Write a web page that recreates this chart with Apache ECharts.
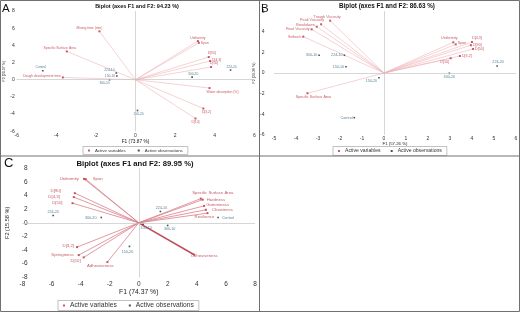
<!DOCTYPE html>
<html><head><meta charset="utf-8">
<script src="https://cdn.jsdelivr.net/npm/echarts@6/dist/echarts.min.js"></script>
<style>html,body{margin:0;padding:0;background:#fff}#c{width:520px;height:312px}</style>
</head><body><div id="c"></div>
<script>
// ---------- Panel A data ----------
const aTitle = 'Biplot (axes F1 and F2: 94.23 %)';
const aXName = 'F1 (73.87 %)';
const aYName = 'F2 (20.37 %)';
const aXTicks = [-6, -4, -2, 0, 2, 4, 6];
const aYTicks = [-6, -4, -2, 0, 2, 4, 6, 8];
const aVarNames = ['Mixing time (min)', 'Specific Surface Area', 'Dough development time', 'Uniformity', 'Span', 'D[90]', 'D[4,3]', 'D[50]', 'Water absorption (%)', 'D[3,2]', 'D[10]'];
const aVarF1 = [-1.82, -3.47, -3.67, 3.15, 3.20, 3.70, 3.77, 3.82, 3.74, 3.43, 3.03];
const aVarF2 = [5.64, 3.30, 0.27, 4.50, 4.30, 2.65, 2.18, 1.48, -0.97, -3.35, -4.51];
const aObsNames = ['Control', '224-10', '150-10', '300-10', '300-20', '224-20', '150-20'];
const aObsF1 = [-4.68, -0.97, -0.94, -1.31, 2.86, 4.80, 0.10];
const aObsF2 = [1.05, 0.78, 0.43, 0.00, 0.31, 1.13, -3.58];

// ---------- Panel B data ----------
const bTitle = 'Biplot (axes F1 and F2: 86.63 %)';
const bXName = 'F1 (57.26 %)';
const bYName = 'F2 (29.36 %)';
const bXTicks = [-5, -4, -3, -2, -1, 0, 1, 2, 3, 4, 5, 6];
const bYTicks = [-6, -4, -2, 0, 2, 4, 6];
const bVarNames = ['Trough Viscosity', 'Peak Viscosity', 'Breakdown', 'Final Viscosity', 'Setback', 'Specific Surface Area', 'Uniformity', 'Span', 'D[4,3]', 'D[90]', 'D[50]', 'D[3,2]', 'D[10]'];
const bVarF1 = [-2.45, -2.86, -3.06, -3.29, -3.67, -3.48, 3.15, 3.26, 4.00, 3.95, 4.05, 3.45, 3.03];
const bVarF2 = [5.08, 4.73, 4.50, 4.24, 3.53, -1.97, 2.98, 2.78, 3.00, 2.70, 2.33, 1.65, 1.43];
const bObsNames = ['300-10', '224-10', '150-10', '150-20', '300-20', '224-20', 'Control'];
const bObsF1 = [-2.95, -1.80, -1.73, -0.23, 2.97, 5.14, -1.35];
const bObsF2 = [1.72, 1.72, 0.61, -0.46, -0.03, 0.68, -4.34];

// ---------- Panel C data ----------
const cTitle = 'Biplot (axes F1 and F2: 89.95 %)';
const cXName = 'F1 (74.37 %)';
const cYName = 'F2 (15.58 %)';
const cXTicks = [-8, -6, -4, -2, 0, 2, 4, 6, 8];
const cYTicks = [-8, -6, -4, -2, 0, 2, 4, 6, 8];
const cVarNames = ['Uniformity', 'Span', 'D[90]', 'D[4,3]', 'D[50]', 'D[3,2]', 'Springiness', 'D[10]', 'Adhesiveness', 'Specific Surface Area', 'Hardness', 'Gumminess', 'Chewiness', 'Resilience', 'Cohesiveness'];
const cVarF1 = [-3.77, -3.65, -4.40, -4.47, -4.56, -4.25, -4.13, -3.79, -2.16, 4.27, 4.40, 4.50, 4.62, 4.73, 3.82];
const cVarF2 = [6.45, 6.40, 4.35, 3.77, 2.88, -3.57, -4.74, -5.08, -5.77, 3.55, 3.40, 2.49, 1.91, 1.42, -4.69];
const cObsNames = ['224-20', '300-20', '224-10', 'Control', '300-10', '150-10', '150-20'];
const cObsF1 = [-5.89, -2.58, 1.49, 5.46, 1.99, 0.30, -0.64];
const cObsF2 = [1.07, 0.78, 1.66, 0.78, -0.39, -0.20, -3.47];

const legendNames = ['Active variables', 'Active observations'];

// ---------- label placement (layout only) ----------
const aVarLab = [['top',-10,0],['top',-7,0],['left',0,-1],['top',0,0],['right',0,0],['top',3,0],['right',0,-1],['top',3,0],['bottom',13,0],['bottom',3,0],['bottom',0,0]];
const aObsLab = [['top',-2,0],['left',0,-3],['left',0,0],['bottom',-5,0],['top',1,0],['top',1,0],['bottom',1,0]];
const bVarLab = [['top',-3,0],['top',-9,0],['left',0,-2],['left',0,0],['left',0,0],['bottom',6,0],['top',-4,0],['right',0,-1],['top',5,0],['right',0,0],['right',0,0],['right',0,0],['bottom',-6,0]];
const bObsLab = [['left',0,0],['left',0,0],['left',0,0],['left',0,3],['bottom',0,0],['top',1,0],['left',0,0]];
const cVarLab = [['left',-3,0],['right',5,0],['left',-12,-2],['left',-12,0],['left',-8,0],['left',-1,-1],['left',-3,0],['left',-1,3],['bottom',-7,0],['top',12,-2],['right',2,0],['right',0,-1],['right',4,0],['bottom',-3,0],['bottom',10,-3]];
const cObsLab = [['top',0,0],['left',-3,0],['top',1,0],['right',2,0],['bottom',2,0],['bottom',3,0],['bottom',-2,2]];

const FONT = '"Liberation Sans", Arial, sans-serif';
const VAR_TXT = '#b8323f', OBS_TXT = '#2f6480', VAR_PT = '#c0303c', OBS_PT = '#222';

const panels = [
  {grid:{left:16.7, top:11, width:237.6, height:120.3}, xT:aXTicks, yT:aYTicks, xName:aXName, yName:aYName,
   vn:aVarNames, vx:aVarF1, vy:aVarF2, vl:aVarLab, on:aObsNames, ox:aObsF1, oy:aObsF2, ol:aObsLab,
   tick:5, xNameFs:4.8, yNameFs:3.6, xLabM:2, yLabM:2, xGap:7, yGap:8, varFs:3.4, obsFs:3.3,
   lineColor:'#eeb3b9', lineW:0.6},
  {grid:{left:274, top:11.2, width:242, height:123.6}, xT:bXTicks, yT:bYTicks, xName:bXName, yName:bYName,
   vn:bVarNames, vx:bVarF1, vy:bVarF2, vl:bVarLab, on:bObsNames, ox:bObsF1, oy:bObsF2, ol:bObsLab,
   tick:5, xNameFs:4.3, yNameFs:3.6, xLabM:1, yLabM:9.5, xGap:7, yGap:6, varFs:3.7, obsFs:3.7,
   lineColor:'#eeb3b9', lineW:0.6},
  {grid:{left:22.5, top:168.3, width:232.5, height:109}, xT:cXTicks, yT:cYTicks, xName:cXName, yName:cYName,
   vn:cVarNames, vx:cVarF1, vy:cVarF2, vl:cVarLab, on:cObsNames, ox:cObsF1, oy:cObsF2, ol:cObsLab,
   tick:6.5, xNameFs:6.8, yNameFs:5.6, xLabM:3, yLabM:-5, xGap:10, yGap:12, varFs:4.3, obsFs:3.7,
   lineColor:'#d9808c', lineW:0.8}
];

const grids = [], xAxes = [], yAxes = [], series = [];
panels.forEach((p, i) => {
  grids.push(Object.assign({containLabel:false, outerBoundsMode:'none'}, p.grid));
  xAxes.push({gridIndex:i, type:'value', min:p.xT[0], max:p.xT[p.xT.length-1], interval:p.xT[1]-p.xT[0],
    axisLine:{show:false}, axisTick:{show:false}, splitLine:{show:false},
    axisLabel:{fontSize:p.tick, color:'#333', margin:p.xLabM, fontFamily:FONT},
    name:p.xName, nameLocation:'middle', nameGap:p.xGap, nameTextStyle:{fontSize:p.xNameFs, color:'#222', fontFamily:FONT}});
  yAxes.push({gridIndex:i, type:'value', min:p.yT[0], max:p.yT[p.yT.length-1], interval:p.yT[1]-p.yT[0],
    axisLine:{show:false}, axisTick:{show:false}, splitLine:{show:false},
    axisLabel:{fontSize:p.tick, color:'#333', margin:p.yLabM, fontFamily:FONT},
    name:p.yName, nameLocation:'middle', nameGap:p.yGap, nameTextStyle:{fontSize:p.yNameFs, color:'#222', fontFamily:FONT}});
  // zero axes
  series.push({type:'scatter', xAxisIndex:i, yAxisIndex:i, data:[], silent:true, z:1,
    markLine:{silent:true, symbol:'none', label:{show:false}, animation:false,
      lineStyle:{color:'#c4c4c4', type:'solid', width:0.7},
      data:[{xAxis:0},{yAxis:0}]}});
  // variable vectors
  series.push({type:'lines', coordinateSystem:'cartesian2d', xAxisIndex:i, yAxisIndex:i, silent:true, z:2,
    animation:false,
    lineStyle:{color:p.lineColor, width:p.lineW, opacity:1},
    data:p.vn.map((n,k) => {
      const d = {coords:[[0,0],[p.vx[k], p.vy[k]]]};
      if (i === 2 && n === 'Cohesiveness') d.lineStyle = {color:'#c24a5a', width:1.5};
      return d;
    })});
  series.push({type:'scatter', name:legendNames[0], xAxisIndex:i, yAxisIndex:i, z:4, symbol:'rect', symbolSize:2,
    itemStyle:{color:VAR_PT}, animation:false,
    label:{show:true, formatter:'{b}', color:VAR_TXT, fontSize:p.varFs, fontFamily:FONT, distance:1},
    data:p.vn.map((n,k) => ({name:n, value:[p.vx[k], p.vy[k]],
      label:{position:p.vl[k][0], offset:[p.vl[k][1], p.vl[k][2]]}}))});
  series.push({type:'scatter', name:legendNames[1], xAxisIndex:i, yAxisIndex:i, z:4, symbol:'rect', symbolSize:1.6,
    itemStyle:{color:OBS_PT}, animation:false,
    label:{show:true, formatter:'{b}', color:OBS_TXT, fontSize:p.obsFs, fontFamily:FONT, distance:1},
    data:p.on.map((n,k) => ({name:n, value:[p.ox[k], p.oy[k]],
      label:{position:p.ol[k][0], offset:[p.ol[k][1], p.ol[k][2]]}}))});
});

function legend(left, top, fs, gap, pad) {
  return {left:left, top:top, orient:'horizontal', icon:'rect', itemWidth:2, itemHeight:2, itemGap:gap,
    padding:pad, borderColor:'#999', borderWidth:0.6, selectedMode:false,
    textStyle:{fontSize:fs, color:'#333', fontFamily:FONT}, data:legendNames};
}

const txt = (x, y, s, font, align) => ({type:'text', silent:true, z:50,
  style:{x:x, y:y, text:s, font:font, fill:'#111', textAlign:align || 'center', textVerticalAlign:'middle'}});
const ln = (x1, y1, x2, y2) => ({type:'line', silent:true, z:60,
  shape:{x1:x1, y1:y1, x2:x2, y2:y2}, style:{stroke:'#707070', lineWidth:1}});

const chart = echarts.init(document.getElementById('c'), null, {renderer:'canvas'});
chart.setOption({
  backgroundColor:'#fff',
  animation:false,
  grid:grids, xAxis:xAxes, yAxis:yAxes, series:series,
  legend:[legend(83, 146.5, 4.4, 12, [2,5]), legend(333, 146.5, 5.1, 10, [2,5]), legend(58, 300.5, 6.7, 12, [1.5,5])],
  graphic:[
    txt(137, 6.5, aTitle, 'bold 5.5px ' + FONT),
    txt(387, 6.5, bTitle, 'bold 6.3px ' + FONT),
    txt(135, 163.5, cTitle, 'bold 7.7px ' + FONT),
    txt(2, 9, 'A', '11.5px ' + FONT, 'left'),
    txt(261, 8.5, 'B', '11.5px ' + FONT, 'left'),
    txt(4, 163, 'C', '13px ' + FONT, 'left'),
    {type:'rect', silent:true, z:60, shape:{x:0.5, y:0.5, width:519, height:311}, style:{fill:'none', stroke:'#707070', lineWidth:1}},
    ln(0, 156, 520, 156),
    ln(259.5, 0, 259.5, 312)
  ]
});
</script></body></html>
